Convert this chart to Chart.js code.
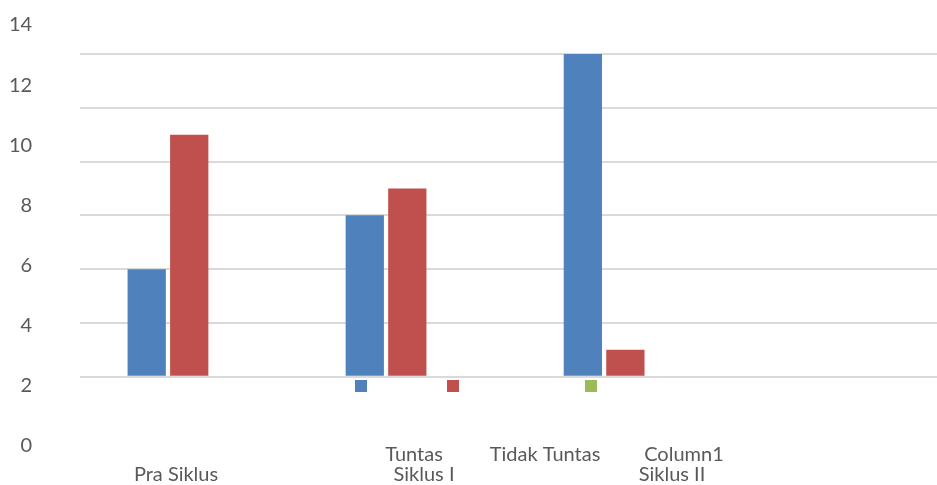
<!DOCTYPE html>
<html>
<head>
<meta charset="utf-8">
<script src="https://cdn.jsdelivr.net/npm/chart.js@4/dist/chart.umd.min.js"></script>
<style>
  html, body { margin: 0; padding: 0; background: #fff; }
  #wrap { width: 937px; height: 485px; }
</style>
</head>
<body>
<div id="wrap"><canvas id="chart"></canvas></div>
<script>
// data
const categories = ['Pra Siklus', 'Siklus I', 'Siklus II'];
const seriesNames = ['Tuntas', 'Tidak Tuntas', 'Column1'];
const tuntas = [4, 6, 12];
const tidakTuntas = [9, 7, 1];
const column1 = [0, 0, 0];
const gridValues = [0, 2, 4, 6, 8, 10, 12];
const tickLabelMin = 0;
const tickLabelMax = 14;

const colors = ['#4f81bd', '#c0504d', '#9bbb59'];
const textColor = '#595959';
const fontFamily = 'Lato, "Open Sans", sans-serif';

function points(values) {
  return values.map((v, i) => ({ x: i, y: v }));
}

// the labels of the source sit in odd places, drawn here by hand
const looseLabels = {
  id: 'looseLabels',
  afterDraw(chart) {
    const ctx = chart.ctx;
    ctx.save();
    ctx.font = '20px ' + fontFamily;
    ctx.textAlign = 'center';
    ctx.textBaseline = 'middle';

    // legend keys
    const keyX = [355, 447, 585];
    keyX.forEach((x, i) => {
      ctx.fillStyle = colors[i];
      ctx.fillRect(x, 380, 12, 12);
    });

    ctx.fillStyle = textColor;
    const nameX = [414, 545, 684];
    seriesNames.forEach((n, i) => ctx.fillText(n, nameX[i], 455));

    const catX = [176, 424, 672];
    categories.forEach((c, i) => ctx.fillText(c, catX[i], 475));
    ctx.restore();
  }
};

const config = {
  type: 'bar',
  data: {
    datasets: [
      { label: seriesNames[0], data: points(tuntas), backgroundColor: colors[0] },
      { label: seriesNames[1], data: points(tidakTuntas), backgroundColor: colors[1] },
      { label: seriesNames[2], data: points(column1), backgroundColor: colors[2] }
    ]
  },
  options: {
    responsive: true,
    maintainAspectRatio: false,
    animation: false,
    categoryPercentage: 0.585,
    barPercentage: 0.9,
    layout: { padding: { left: 9, right: 0, top: 25, bottom: 39 } },
    plugins: {
      legend: { display: false },
      tooltip: { enabled: false }
    },
    scales: {
      x: {
        type: 'linear',
        min: -0.5,
        max: 3.429,
        offset: false,
        display: false,
        afterBuildTicks(scale) {
          scale.ticks = categories.map((c, i) => ({ value: i }));
        }
      },
      y: {
        position: 'left',
        weight: 0,
        min: -2.577,
        max: 13.078,
        afterBuildTicks(scale) {
          scale.ticks = gridValues.map(v => ({ value: v }));
        },
        afterFit(scale) { scale.width = 48; },
        ticks: { display: false },
        border: { display: false },
        grid: { color: '#d9d9d9', lineWidth: 2, drawTicks: false }
      },
      yLabels: {
        position: 'left',
        weight: 1,
        min: tickLabelMin,
        max: tickLabelMax,
        grid: { display: false, drawTicks: false },
        border: { display: false },
        ticks: {
          stepSize: 2,
          padding: 0,
          color: textColor,
          font: { family: fontFamily, size: 20 }
        }
      }
    }
  },
  plugins: [looseLabels]
};

const chart = new Chart(document.getElementById('chart'), config);
</script>
</body>
</html>
